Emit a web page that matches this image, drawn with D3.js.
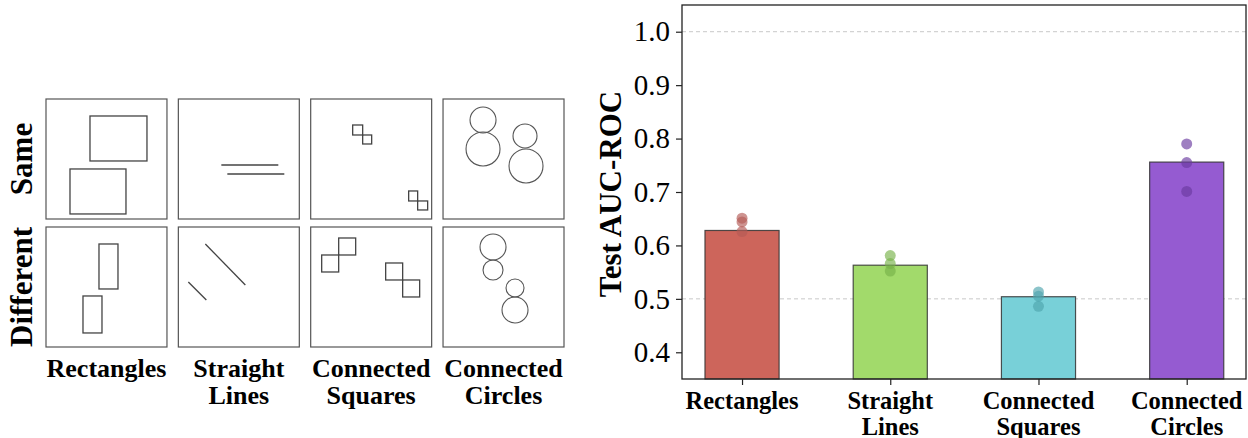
<!DOCTYPE html>
<html>
<head>
<meta charset="utf-8">
<script src="https://cdn.jsdelivr.net/npm/d3@7"></script>
<style>
  body { margin: 0; background: #fff; }
  text { font-family: "Liberation Serif", "Times New Roman", serif; }
</style>
</head>
<body>
<div id="chart-area"></div>
<script>
// ---- data ----
const categories = ["Rectangles", "Straight Lines", "Connected Squares", "Connected Circles"];
const labelLines = [["Rectangles"], ["Straight", "Lines"], ["Connected", "Squares"], ["Connected", "Circles"]];
const meanAUC = [0.628, 0.563, 0.504, 0.756];
const runAUC = [
  [0.651, 0.644, 0.626],
  [0.581, 0.566, 0.552],
  [0.513, 0.505, 0.486],
  [0.790, 0.755, 0.701]
];
const yTicks = [0.4, 0.5, 0.6, 0.7, 0.8, 0.9, 1.0];
const refLines = [0.5, 1.0];
const barColors = ["#cd655b", "#a2da6b", "#78d0d8", "#955bd1"];
const dotColors = ["#b45a56", "#78b24a", "#4fa5ae", "#6a3aa0"];

const rowNames = ["Same", "Different"];
// example stimuli, in box-local units (box is 121 wide)
const rectsSame = [[44, 17, 101, 62], [24, 70, 80, 115]];
const rectsDiff = [[53, 17, 72, 62], [37, 69, 56, 106]];
const linesSame = [[43, 66, 100, 66], [49, 75, 106, 75]];
const linesDiff = [[27, 17, 67, 58], [10, 55, 28, 73]];
const squaresSame = [[42, 26, 52, 36], [52, 36, 61, 45], [98, 92, 107, 102], [107, 102, 117, 111]];
const squaresDiff = [[28, 11, 45, 28], [11, 28, 28, 45], [75, 36, 92, 53], [92, 53, 109, 70]];
const circlesSame = [[40, 21, 13], [40, 50, 17], [82, 37, 12], [83, 67, 17]];
const circlesDiff = [[50, 20, 13], [50, 43, 10], [72, 61, 9], [72, 83, 13]];

let svg = d3.select("#chart-area")
  .append("svg")
  .attr("width", 1248)
  .attr("height", 438);

// ---- left panel: example grid ----
let colX = d3.scaleBand().domain(categories).range([46, 564]).paddingInner(0.086).paddingOuter(0);
let rowY = d3.scaleBand().domain(rowNames).range([99, 347]).paddingInner(0.0625).paddingOuter(0);
let boxSize = colX.bandwidth();
let u = d3.scaleLinear().domain([0, 121]).range([0, boxSize]);

let examples = {
  "Rectangles": [rectsSame, rectsDiff],
  "Straight Lines": [linesSame, linesDiff],
  "Connected Squares": [squaresSame, squaresDiff],
  "Connected Circles": [circlesSame, circlesDiff]
};

categories.forEach(function(cat) {
  rowNames.forEach(function(row, ri) {
    let g = svg.append("g")
      .attr("transform", "translate(" + colX(cat) + "," + rowY(row) + ")");
    g.append("rect")
      .attr("x", 0).attr("y", 0)
      .attr("width", boxSize).attr("height", rowY.bandwidth())
      .attr("fill", "none").attr("stroke", "#555").attr("stroke-width", 1.2);
    let items = examples[cat][ri];
    if (cat === "Rectangles" || cat === "Connected Squares") {
      g.selectAll("rect.s").data(items).enter().append("rect")
        .attr("class", "s")
        .attr("x", d => u(d[0])).attr("y", d => u(d[1]))
        .attr("width", d => u(d[2]) - u(d[0])).attr("height", d => u(d[3]) - u(d[1]))
        .attr("fill", "none").attr("stroke", "#444").attr("stroke-width", 1.3);
    } else if (cat === "Straight Lines") {
      g.selectAll("line").data(items).enter().append("line")
        .attr("x1", d => u(d[0])).attr("y1", d => u(d[1]))
        .attr("x2", d => u(d[2])).attr("y2", d => u(d[3]))
        .attr("stroke", "#444").attr("stroke-width", 1.3);
    } else {
      g.selectAll("circle").data(items).enter().append("circle")
        .attr("cx", d => u(d[0])).attr("cy", d => u(d[1])).attr("r", d => u(d[2]))
        .attr("fill", "none").attr("stroke", "#555").attr("stroke-width", 1.1);
    }
  });
});

// row labels
rowNames.forEach(function(row) {
  let cy = rowY(row) + rowY.bandwidth() / 2;
  svg.append("text")
    .attr("transform", "translate(32," + cy + ") rotate(-90)")
    .attr("text-anchor", "middle")
    .attr("font-weight", "bold")
    .attr("font-size", 31)
    .text(row);
});

// column labels
categories.forEach(function(cat, i) {
  let t = svg.append("text")
    .attr("text-anchor", "middle")
    .attr("font-weight", "bold")
    .attr("font-size", 26);
  labelLines[i].forEach(function(line, li) {
    t.append("tspan")
      .attr("x", colX(cat) + boxSize / 2)
      .attr("y", 377 + li * 27)
      .text(line);
  });
});

// ---- right panel: bar chart ----
let axLeft = 682, axRight = 1246, axTop = 5, axBottom = 379;
let x = d3.scaleLinear().domain([-0.405, 3.4]).range([axLeft, axRight]);
let y = d3.scaleLinear().domain([0.35, 1.05]).range([axBottom, axTop]);
let barW = x(0.5) - x(0);

let chart = svg.append("g");

chart.selectAll("line.ref").data(refLines).enter().append("line")
  .attr("class", "ref")
  .attr("x1", axLeft).attr("x2", axRight)
  .attr("y1", d => y(d)).attr("y2", d => y(d))
  .attr("stroke", "#c8c8c8").attr("stroke-width", 1)
  .attr("stroke-dasharray", "4,3");

chart.selectAll("rect.bar").data(meanAUC).enter().append("rect")
  .attr("class", "bar")
  .attr("x", (d, i) => x(i) - barW / 2)
  .attr("y", d => y(d))
  .attr("width", barW)
  .attr("height", d => y(0.35) - y(d))
  .attr("fill", (d, i) => barColors[i])
  .attr("stroke", "#333").attr("stroke-opacity", 0.85).attr("stroke-width", 1.2);

runAUC.forEach(function(vals, i) {
  chart.selectAll("circle.run" + i).data(vals).enter().append("circle")
    .attr("class", "run" + i)
    .attr("cx", x(i))
    .attr("cy", d => y(d))
    .attr("r", 5.5)
    .attr("fill", dotColors[i])
    .attr("fill-opacity", 0.65);
});

// y axis
let yAxis = chart.append("g")
  .attr("transform", "translate(" + axLeft + ",0)")
  .call(d3.axisLeft(y).tickValues(yTicks).tickFormat(d3.format(".1f")).tickSize(6).tickSizeOuter(0).tickPadding(6));
yAxis.selectAll("text").attr("font-size", 29).attr("fill", "#000")
  .style("font-family", "'Liberation Serif', serif");

// x axis
let xAxis = chart.append("g")
  .attr("transform", "translate(0," + axBottom + ")")
  .call(d3.axisBottom(x).tickValues(d3.range(categories.length)).tickFormat("").tickSize(6).tickSizeOuter(0));
xAxis.select(".domain").remove();
yAxis.select(".domain").remove();
chart.selectAll(".tick line").attr("stroke", "#222").attr("stroke-width", 1.2);

// spines
chart.append("rect")
  .attr("x", axLeft).attr("y", axTop)
  .attr("width", axRight - axLeft).attr("height", axBottom - axTop)
  .attr("fill", "none").attr("stroke", "#222").attr("stroke-width", 1.3);

// x tick labels
categories.forEach(function(cat, i) {
  let t = chart.append("text")
    .attr("text-anchor", "middle")
    .attr("font-weight", "bold")
    .attr("font-size", 24.5);
  labelLines[i].forEach(function(line, li) {
    t.append("tspan")
      .attr("x", x(i))
      .attr("y", 409 + li * 26)
      .text(line);
  });
});

// y label
svg.append("text")
  .attr("transform", "translate(621," + ((axTop + axBottom) / 2 + 2) + ") rotate(-90)")
  .attr("text-anchor", "middle")
  .attr("font-weight", "bold")
  .attr("font-size", 31)
  .text("Test AUC-ROC");
</script>
</body>
</html>
